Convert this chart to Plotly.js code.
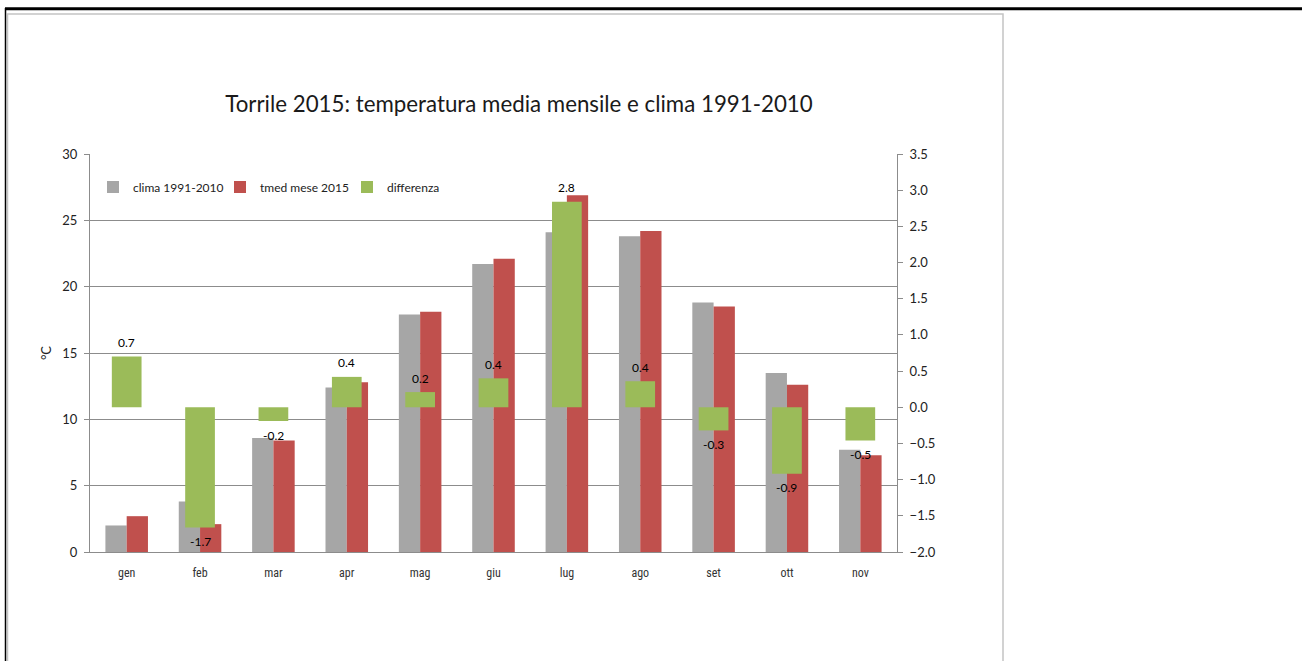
<!DOCTYPE html>
<html>
<head>
<meta charset="utf-8">
<script src="https://cdn.plot.ly/plotly-3.0.1.min.js"></script>
<style>html,body{margin:0;padding:0;background:#fff;}#chart{width:1302px;height:661px;}</style>
</head>
<body>
<div id="chart"></div>
<script>
const months = ["gen","feb","mar","apr","mag","giu","lug","ago","set","ott","nov"];
const clima = [2.0, 3.8, 8.6, 12.4, 17.9, 21.7, 24.1, 23.8, 18.8, 13.5, 7.7];
const tmed2015 = [2.7, 2.1, 8.4, 12.8, 18.1, 22.1, 26.9, 24.2, 18.5, 12.6, 7.3];
const differenza = [0.70, -1.66, -0.19, 0.42, 0.21, 0.40, 2.84, 0.36, -0.32, -0.92, -0.46];
const seriesNames = ["clima 1991-2010", "tmed mese 2015", "differenza"];

const PL = 90, PR = 897, PT = 154, PB = 552;
const px = v => (v - PL) / (PR - PL);
const py = v => (PB - v) / (PB - PT);

const numFont = "Lato, 'Open Sans', sans-serif";

const traces = [
  {type:"bar", name:seriesNames[0], x:months, y:clima, marker:{color:"#a6a6a6"},
   width:0.29, offset:-0.29, hoverinfo:"y"},
  {type:"bar", name:seriesNames[1], x:months, y:tmed2015, marker:{color:"#c0504d"},
   width:0.29, offset:0, hoverinfo:"y"},
  {type:"bar", name:seriesNames[2], x:months, y:differenza, yaxis:"y2", marker:{color:"#9bbb59"},
   width:0.405, offset:-0.2025, hoverinfo:"y"}
];

const annotations = months.map((m, i) => ({
  x: m, y: differenza[i], xref: "x", yref: "y2",
  text: differenza[i].toFixed(1), showarrow: false,
  yshift: differenza[i] >= 0 ? 14 : -14,
  font: {family: numFont, size: 12, color: "#000"}
}));

const shapes = [
  {type:"rect", xref:"paper", yref:"paper", x0:px(7.5), x1:px(1003), y0:py(670), y1:py(14),
   line:{color:"#c4c4c4", width:1.5}, fillcolor:"rgba(0,0,0,0)", layer:"below"},
  {type:"line", xref:"paper", yref:"paper", x0:px(5), x1:px(1302), y0:py(8.75), y1:py(8.75),
   line:{color:"#000", width:3}},
  {type:"line", xref:"paper", yref:"paper", x0:px(5.5), x1:px(5.5), y0:py(8), y1:py(670),
   line:{color:"#000", width:1.5}}
];

const layout = {
  width:1302, height:661,
  margin:{l:PL, r:1302-PR, t:PT, b:661-PB, pad:0},
  paper_bgcolor:"#fff", plot_bgcolor:"#fff",
  barmode:"overlay",
  showlegend:true,
  title:{text:"Torrile 2015: temperatura media mensile e clima 1991-2010",
    font:{family:numFont, size:22.3, color:"#1a1a1a"},
    x:px(519), xref:"paper", xanchor:"center",
    y:1-104/661, yref:"container", yanchor:"middle"},
  font:{family:numFont, size:12, color:"#222"},
  xaxis:{type:"category", showline:true, linecolor:"#8c8c8c", linewidth:1,
    ticks:"", showgrid:false, zeroline:false,
    tickfont:{family:"'Liberation Sans Narrow', 'Roboto Condensed', 'Noto Sans', sans-serif", size:12, color:"#333"},
    ticklabelstandoff:10, range:[-0.5, 10.5]},
  yaxis:{range:[0,30], dtick:5, tick0:0, showgrid:true, gridcolor:"#8c8c8c", gridwidth:1,
    showline:true, linecolor:"#8c8c8c", linewidth:1, ticks:"outside", ticklen:5, tickcolor:"#8c8c8c",
    zeroline:false, tickfont:{family:numFont, size:13, color:"#222"}, ticklabelstandoff:4,
    title:{text:"°C", font:{family:numFont, size:13, color:"#222"}, standoff:7}},
  yaxis2:{range:[-2,3.5], dtick:0.5, tick0:0, tickformat:".1f", overlaying:"y", side:"right",
    showgrid:false, showline:true, linecolor:"#8c8c8c", linewidth:1, ticks:"outside", ticklen:5,
    tickcolor:"#8c8c8c", zeroline:false, tickfont:{family:numFont, size:13, color:"#222"},
    ticklabelstandoff:4},
  legend:{orientation:"h", x:px(93), y:py(187), xanchor:"left", yanchor:"middle",
    bgcolor:"rgba(0,0,0,0)", font:{family:numFont, size:12, color:"#222"},
    entrywidth:82, entrywidthmode:"pixels", traceorder:"normal"},
  annotations:annotations,
  shapes:shapes
};

Plotly.newPlot("chart", traces, layout, {displayModeBar:false, staticPlot:true});
</script>
</body>
</html>
